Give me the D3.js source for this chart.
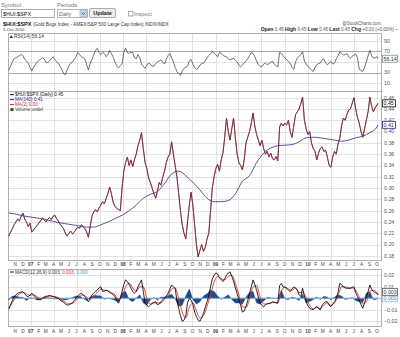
<!DOCTYPE html>
<html><head><meta charset="utf-8">
<script src="https://cdn.jsdelivr.net/npm/d3@7"></script>
<style>
body{margin:0;background:#fff;}
svg{display:block;font-family:"Liberation Sans",Arial,sans-serif;}
</style></head><body>
<svg id="c" width="400" height="337"></svg>
<script>
// ---- data (weekly observations from 2006-10-06, last point 2010-10-05) ----
const firstWeek = "2006-10-06";
const lastDate = "2010-10-05";
const ratio = [0.215,0.222,0.228,0.235,0.24,0.245,0.242,0.25,0.256,0.245,0.24,0.232,0.238,0.222,0.226,0.23,0.234,0.238,0.242,0.247,
0.244,0.24,0.245,0.248,0.244,0.25,0.252,0.246,0.242,0.236,0.232,0.228,0.22,0.215,0.22,0.224,0.219,0.222,0.227,0.231,
0.229,0.235,0.232,0.228,0.222,0.213,0.232,0.25,0.258,0.262,0.258,0.265,0.27,0.276,0.272,0.282,0.29,0.302,0.29,0.275,
0.268,0.264,0.262,0.26,0.3,0.33,0.345,0.355,0.34,0.35,0.338,0.35,0.36,0.375,0.385,0.398,0.37,0.345,0.335,0.318,
0.31,0.3,0.29,0.282,0.295,0.31,0.305,0.32,0.33,0.345,0.355,0.36,0.382,0.36,0.34,0.32,0.29,0.26,0.235,0.22,
0.21,0.24,0.27,0.293,0.27,0.235,0.2,0.178,0.19,0.2,0.188,0.195,0.21,0.22,0.26,0.3,0.32,0.335,0.342,0.33,
0.35,0.362,0.39,0.424,0.4,0.385,0.405,0.424,0.39,0.36,0.345,0.34,0.332,0.35,0.38,0.39,0.4,0.415,0.433,0.41,
0.395,0.385,0.375,0.385,0.37,0.36,0.365,0.355,0.362,0.352,0.35,0.356,0.348,0.408,0.415,0.41,0.415,0.412,0.42,0.4,
0.39,0.41,0.43,0.435,0.44,0.45,0.461,0.42,0.405,0.395,0.4,0.38,0.37,0.365,0.35,0.362,0.37,0.373,0.365,0.367,
0.355,0.34,0.337,0.355,0.365,0.36,0.378,0.388,0.41,0.424,0.42,0.43,0.438,0.44,0.45,0.46,0.44,0.425,0.415,0.4,
0.39,0.405,0.42,0.435,0.461,0.445,0.435,0.442,0.447,0.45];
const rsi = [35,42,50,56,58,60,62,64,62,55,52,48,40,33,40,45,50,53,55,58,
56,50,49,52,56,60,55,51,48,42,36,28,26,36,43,48,50,55,60,68,
64,60,58,56,45,35,48,55,64,72,76,68,64,68,66,60,64,72,66,59,
50,42,39,43,46,68,76,68,66,68,68,58,56,64,58,46,42,38,44,48,
46,42,42,47,50,52,54,50,46,55,62,66,58,50,40,32,28,25,33,38,
40,42,52,55,46,40,36,38,44,47,48,52,58,62,66,69,67,64,60,68,
66,63,61,60,56,54,56,57,53,50,44,41,44,48,52,56,62,68,66,60,
52,45,42,41,46,48,45,47,50,51,46,43,41,68,66,62,58,54,51,48,
40,36,50,57,61,64,69,52,46,42,38,35,32,40,45,47,48,54,56,48,
45,48,51,46,48,56,62,69,66,63,64,66,60,57,61,63,65,58,36,34,
32,40,50,62,72,62,57,58,60,56.14];
const macd = [-0.0096,-0.006,-0.002,0.001,0.003,0.0043,0.005,0.0055,0.0057,0.004,0.002,0.0014,0.003,0.0043,0.003,0.001,0,-0.001,-0.0012,0,
0.0012,0.0018,0.002,0.0025,0.002,0.0014,0.001,0.0005,0,-0.0015,-0.0025,-0.0035,-0.005,-0.006,-0.0055,-0.0045,-0.004,-0.002,0,0.002,
0.0035,0.0043,0.003,0.0014,-0.001,-0.003,0,0.003,0.0045,0.006,0.0072,0.009,0.01,0.006,0.0062,0.007,0.0065,0.005,0.0043,0.003,
0.0014,-0.002,-0.0043,0,0.0058,0.012,0.016,0.0145,0.012,0.009,0.006,0.0043,0.006,0.01,0.013,0.016,0.006,-0.0043,-0.006,-0.0073,
-0.006,-0.0043,-0.0035,-0.003,-0.0055,-0.005,-0.003,-0.001,0,0.002,0.0043,0.008,0.0116,0.01,0.0087,-0.002,-0.009,-0.015,-0.02,-0.019,
-0.015,-0.004,0,-0.0015,-0.005,-0.012,-0.016,-0.019,-0.02,-0.017,-0.013,-0.008,-0.003,0.002,0.01,0.017,0.02,0.022,0.021,0.018,
0.016,0.0145,0.017,0.02,0.022,0.023,0.019,0.015,0.009,0.004,-0.001,-0.006,-0.012,-0.011,-0.007,-0.002,0.004,0.01,0.016,0.012,
0.007,0.001,-0.0043,-0.006,-0.0073,-0.006,-0.0043,-0.0045,-0.004,-0.003,-0.0035,-0.004,-0.0043,0.011,0.013,0.01,0.0095,0.0087,0.007,0.0058,
0.008,0.01,0.009,0.0072,0.003,0.0014,0.0087,0.002,-0.003,-0.0065,-0.0087,-0.0095,-0.01,-0.0085,-0.007,-0.009,-0.01,-0.006,-0.0043,-0.003,
-0.003,-0.006,-0.0073,-0.005,-0.003,0,0.005,0.013,0.012,0.01,0.009,0.0087,0.0087,0.0087,0.0095,0.01,0.005,0.0014,-0.002,-0.0055,
-0.0087,-0.004,0.0014,0.006,0.0116,0.008,0.0058,0.005,0.0043,0.003];
// MA(140): every 4th week, plus last day
const ma140 = [0.256,0.254,0.251,0.249,0.247,0.245,0.242,0.239,0.237,0.235,0.233,0.231,0.231,0.235,0.24,0.246,0.252,0.26,0.27,0.282,
0.289,0.294,0.308,0.325,0.33,0.322,0.31,0.297,0.282,0.276,0.276,0.278,0.29,0.312,0.322,0.345,0.362,0.371,0.375,0.376,
0.377,0.382,0.389,0.39,0.389,0.387,0.385,0.383,0.385,0.389,0.392,0.398,0.408,0.412];
// MACD signal and histogram: every 2nd week, plus last day
const signal = [-0.008,-0.004,0.001,0.004,0.005,0.004,0.0025,0.003,0.0015,0,0,0.0015,0.002,0.0015,0.0005,-0.0015,-0.0035,-0.005,-0.0045,-0.002,
0.0015,0.003,0.001,-0.001,0.002,0.005,0.008,0.007,0.0065,0.005,0.003,-0.001,0.001,0.01,0.013,0.009,0.006,0.01,0.01,0,
-0.005,-0.004,-0.004,-0.004,-0.001,0.002,0.008,0.009,0,-0.012,-0.017,-0.008,-0.004,-0.011,-0.017,-0.015,-0.007,0.003,0.014,0.019,
0.017,0.016,0.019,0.02,0.013,0.003,-0.007,-0.008,-0.001,0.01,0.011,0.001,-0.005,-0.005,-0.0043,-0.0035,-0.004,0.006,0.01,0.008,
0.007,0.009,0.005,0.005,0.001,-0.006,-0.009,-0.008,-0.009,-0.006,-0.004,-0.006,-0.004,0.002,0.01,0.01,0.009,0.009,0.007,0.001,
-0.005,-0.003,0.006,0.007,0.005,0.003];
const hist = [-0.0016,0.002,0.002,0.001,0.0007,-0.002,0.0005,0,-0.0015,-0.0012,0.0012,0.0005,0,-0.0005,-0.0005,-0.001,-0.0015,-0.0005,0.0005,0.002,
0.002,0,-0.002,0.001,0.0025,0.0022,0.002,-0.0008,0,-0.0007,-0.0016,-0.0033,0.0048,0.006,-0.001,-0.003,0,0.003,-0.004,-0.006,
-0.001,0.0005,-0.0015,0.001,0.001,0.0023,0.0036,-0.0003,-0.007,-0.006,0.002,0.008,-0.001,-0.005,-0.003,0.002,0.004,0.007,0.006,0.002,
-0.001,0.001,0.003,-0.001,-0.004,-0.004,-0.005,0.001,0.005,0.006,-0.004,-0.005,-0.0023,0.0007,0.0003,0,-0.0003,0.007,-0.0005,-0.001,
0.001,0,-0.002,0.0037,-0.004,-0.0027,-0.001,0.001,-0.001,0.0017,0.001,-0.0013,0.001,0.003,0.002,-0.001,-0.0003,0.0005,-0.002,-0.003,
-0.0037,0.0044,0.0056,-0.0012,-0.0007,0];
const ratioTicks = [0.46,0.44,0.42,0.40,0.38,0.36,0.34,0.32,0.30,0.28,0.26,0.24,0.22,0.20,0.18];
const rsiTicks = [90,70,50,30,10];
const macdTicks = [0.02,0.01,-0.01,-0.02];
const monthLetters = ["J","F","M","A","M","J","J","A","S","O","N","D"];

// ---- dates ----
const parse = d3.timeParse("%Y-%m-%d");
const w0 = parse(firstWeek);
const weeks = d3.range(ratio.length - 1).map(i => d3.timeDay.offset(w0, 7 * i));
weeks.push(parse(lastDate));
const every = k => weeks.filter((d, i) => i % k === 0 && i < weeks.length - 1).concat([weeks[weeks.length - 1]]);
const maDates = every(4), sigDates = every(2);

const svg = d3.select("#c");
svg.append("rect").attr("width", 400).attr("height", 337).attr("fill", "#fff");

const L = 8, R = 381;
const x = d3.scaleTime().domain([parse("2006-10-03"), parse("2010-10-17")]).range([L, R]);
const months = d3.timeMonth.range(parse("2006-11-01"), parse("2010-10-06"));
const quarters = months.filter(d => d.getMonth() % 3 === 0);

const panels = {
  rsi: {top: 33.5, bottom: 91.5},
  main: {top: 91.5, bottom: 260.5},
  macd: {top: 269.5, bottom: 326.5}
};
const yRsi = d3.scaleLinear().domain([50, 90]).range([62, 40.8]);
const yMain = d3.scaleLinear().domain([0.46, 0.18]).range([97.7, 255.9]);
const yMacd = d3.scaleLinear().domain([0, 0.02]).range([298.3, 275.3]);

const gridC = "#e2e2e2", axisFont = 5.3, labX = 384;

function panelFrame(p, hTicks, yS, fmt, darkSet) {
  const g = svg.append("g");
  g.selectAll("line.v").data(quarters).join("line")
    .attr("x1", d => Math.round(x(d)) + 0.5).attr("x2", d => Math.round(x(d)) + 0.5)
    .attr("y1", p.top).attr("y2", p.bottom).attr("stroke", gridC).attr("stroke-width", 1);
  g.selectAll("line.h").data(hTicks).join("line")
    .attr("x1", L).attr("x2", R)
    .attr("y1", d => Math.round(yS(d)) + 0.5).attr("y2", d => Math.round(yS(d)) + 0.5)
    .attr("stroke", d => darkSet && darkSet.includes(d) ? "#a8a8a8" : gridC).attr("stroke-width", 1);
  g.append("rect").attr("x", L + 0.5).attr("y", p.top).attr("width", R - L).attr("height", p.bottom - p.top)
    .attr("fill", "none").attr("stroke", "#b0b0b0").attr("stroke-width", 1);
  g.selectAll("text").data(hTicks).join("text")
    .attr("x", labX).attr("y", d => yS(d) + 1.8).attr("font-size", axisFont).attr("fill", "#555")
    .text(fmt);
  return g;
}

panelFrame(panels.rsi, rsiTicks, yRsi, d => d === 50 ? "" : d, [70, 30]);
panelFrame(panels.main, ratioTicks, yMain, d => d3.format(".2f")(d), null);
panelFrame(panels.macd, macdTicks, yMacd, d => d3.format(".2f")(d), null);

function monthAxis(yPos) {
  svg.append("g").selectAll("text").data(months).join("text")
    .attr("x", d => x(d)).attr("y", yPos).attr("text-anchor", "middle")
    .attr("font-size", 4.8).attr("fill", "#444")
    .attr("font-weight", d => d.getMonth() === 0 ? "bold" : "normal")
    .text(d => d.getMonth() === 0 ? d3.timeFormat("%y")(d) : monthLetters[d.getMonth()]);
}
monthAxis(266);
monthAxis(333);

// RSI line
svg.append("path").datum(rsi).attr("fill", "none").attr("stroke", "#333").attr("stroke-width", 0.7)
  .attr("d", d3.line().x((d, i) => x(weeks[i])).y(d => yRsi(d)));

// main: MA(140)
svg.append("path").datum(ma140).attr("fill", "none").attr("stroke", "#2b2b8a").attr("stroke-width", 0.8)
  .attr("d", d3.line().curve(d3.curveMonotoneX).x((d, i) => x(maDates[i])).y(d => yMain(d)));
// price line (black) with MA(2) red overlay
const pLine = d3.line().x((d, i) => x(weeks[i])).y(d => yMain(d));
svg.append("path").datum(ratio).attr("fill", "none").attr("stroke", "#222").attr("stroke-width", 0.9).attr("d", pLine);
svg.append("path").datum(ratio).attr("fill", "none").attr("stroke", "#cc2244").attr("stroke-width", 0.6).attr("opacity", 0.9).attr("d", pLine);

// MACD histogram
svg.append("path").datum(hist).attr("fill", "#1d4c8c").attr("stroke", "#1d4c8c").attr("stroke-width", 0.5)
  .attr("d", d3.area().x((d, i) => x(sigDates[i])).y0(yMacd(0)).y1(d => yMacd(d)));
svg.append("line").attr("x1", L).attr("x2", R).attr("y1", yMacd(0)).attr("y2", yMacd(0))
  .attr("stroke", "#7fb4d8").attr("stroke-width", 1);
svg.append("path").datum(signal).attr("fill", "none").attr("stroke", "#e0302c").attr("stroke-width", 0.9)
  .attr("d", d3.line().curve(d3.curveMonotoneX).x((d, i) => x(sigDates[i])).y(d => yMacd(d)));
svg.append("path").datum(macd).attr("fill", "none").attr("stroke", "#111").attr("stroke-width", 0.9)
  .attr("d", d3.line().x((d, i) => x(weeks[i])).y(d => yMacd(d)));

function valBox(yv, txt, stroke, color, w) {
  const g = svg.append("g");
  g.append("rect").attr("x", 382.5).attr("y", yv - 3.5).attr("width", w).attr("height", 7)
    .attr("fill", "#fff").attr("stroke", stroke).attr("stroke-width", 0.8);
  g.append("text").attr("x", 383.5).attr("y", yv + 1.8).attr("font-size", axisFont).attr("fill", color).text(txt);
}
valBox(yRsi(rsi[rsi.length - 1]), "56.14", "#7a9a7a", "#333", 15);
valBox(yMain(ma140[ma140.length - 1]), "0.41", "#2b2b8a", "#2b2b8a", 13);
valBox(yMain(ratio[ratio.length - 1]), "0.45", "#111", "#111", 13);
valBox(yMacd(0), "0.000", "#7fb4d8", "#3a7fb0", 15);
valBox(yMacd(macd[macd.length - 1]) - 3, "0.003", "#555", "#333", 15);

// ---- header form ----
const hdr = svg.append("g").attr("font-size", 6);
hdr.append("text").attr("x", 1).attr("y", 7).attr("fill", "#777").text("Symbol");
hdr.append("text").attr("x", 57).attr("y", 7).attr("fill", "#777").text("Periods");
hdr.append("rect").attr("x", 1.5).attr("y", 9.5).attr("width", 53).attr("height", 8).attr("fill", "#fff").attr("stroke", "#999").attr("stroke-width", 0.8);
hdr.append("text").attr("x", 3).attr("y", 15.8).attr("fill", "#111").attr("font-size", 5.5).text("$HUI:$SPX");
hdr.append("rect").attr("x", 57.5).attr("y", 9.5).attr("width", 30).attr("height", 8).attr("fill", "#fff").attr("stroke", "#aaa").attr("stroke-width", 0.8);
hdr.append("text").attr("x", 59).attr("y", 15.8).attr("fill", "#666").attr("font-size", 5.5).text("Daily");
hdr.append("rect").attr("x", 80).attr("y", 10).attr("width", 7).attr("height", 7).attr("fill", "#c9d9ef").attr("stroke", "#8aa6cf").attr("stroke-width", 0.6);
hdr.append("path").attr("d", "M81.8,12.6 L83.5,14.6 L85.2,12.6").attr("fill", "none").attr("stroke", "#2b4f8a").attr("stroke-width", 0.9);
hdr.append("rect").attr("x", 89.5).attr("y", 8.5).attr("width", 26).attr("height", 9).attr("rx", 1.5).attr("fill", "#ededed").attr("stroke", "#999").attr("stroke-width", 0.8);
hdr.append("text").attr("x", 102.5).attr("y", 15.3).attr("text-anchor", "middle").attr("font-weight", "bold").attr("font-size", 5.5).attr("fill", "#222").text("Update");
hdr.append("rect").attr("x", 128.5).attr("y", 11.5).attr("width", 4.5).attr("height", 4.5).attr("fill", "#fff").attr("stroke", "#777").attr("stroke-width", 0.6);
hdr.append("text").attr("x", 134).attr("y", 15.8).attr("fill", "#777").attr("font-size", 5.5).text("Inspect");

const t = svg.append("text").attr("x", 3).attr("y", 25.5).attr("font-size", 4.7).attr("fill", "#333");
t.append("tspan").attr("font-weight", "bold").attr("font-size", 5.5).attr("fill", "#111").text("$HUI:$SPX ");
t.append("tspan").text("(Gold Bugs Index - AMEX/S&P 500 Large Cap Index) INDX/INDX");
svg.append("text").attr("x", 3).attr("y", 31).attr("font-size", 4.3).attr("fill", "#333").text("5-Oct-2010");
svg.append("text").attr("x", 381).attr("y", 25).attr("text-anchor", "end").attr("font-size", 4.5).attr("fill", "#555").text("@StockCharts.com");
const q = svg.append("text").attr("x", 398).attr("y", 31).attr("text-anchor", "end").attr("font-size", 4.6).attr("fill", "#555");
[["Open", "0.45"], ["High", "0.45"], ["Low", "0.45"], ["Last", "0.45"], ["Chg", "+0.00 (+0.00%) ~"]].forEach(([k, v]) => {
  q.append("tspan").attr("font-weight", "bold").attr("fill", "#222").attr("font-size", 5).text(k + " ");
  q.append("tspan").text(v + " ");
});

svg.append("path").attr("d", "M9.5,38 L11.3,35 L13.1,38 Z").attr("fill", "#333");
svg.append("text").attr("x", 14).attr("y", 38.2).attr("font-size", 4.8).attr("fill", "#333").text("RSI(14) 56.14");

const leg = [
  {c: "#111", t: "$HUI:$SPX (Daily) 0.45", y: 96, m: "line"},
  {c: "#2b2b8a", t: "MA(140) 0.41", y: 101, m: "line"},
  {c: "#d0213e", t: "MA(2) 0.00", y: 106, m: "line"},
  {c: "#444", t: "Volume undef", y: 111, m: "box"}
];
const lg = svg.append("g");
leg.forEach(d => {
  if (d.m === "line") lg.append("line").attr("x1", 10).attr("x2", 14).attr("y1", d.y - 1.4).attr("y2", d.y - 1.4).attr("stroke", d.c).attr("stroke-width", 1);
  else lg.append("rect").attr("x", 10.5).attr("y", d.y - 3).attr("width", 3).attr("height", 3).attr("fill", d.c);
  lg.append("text").attr("x", 15).attr("y", d.y).attr("font-size", 4.6).attr("fill", d.c).text(d.t);
});

const ml = svg.append("text").attr("x", 15).attr("y", 273.5).attr("font-size", 4.6).attr("fill", "#333");
svg.append("line").attr("x1", 10).attr("x2", 14).attr("y1", 272).attr("y2", 272).attr("stroke", "#111");
ml.append("tspan").text("MACD(12,26,9) 0.003, ");
ml.append("tspan").attr("fill", "#e0302c").text("0.003, ");
ml.append("tspan").attr("fill", "#4aa0c8").text("0.000");
</script>
</body></html>
